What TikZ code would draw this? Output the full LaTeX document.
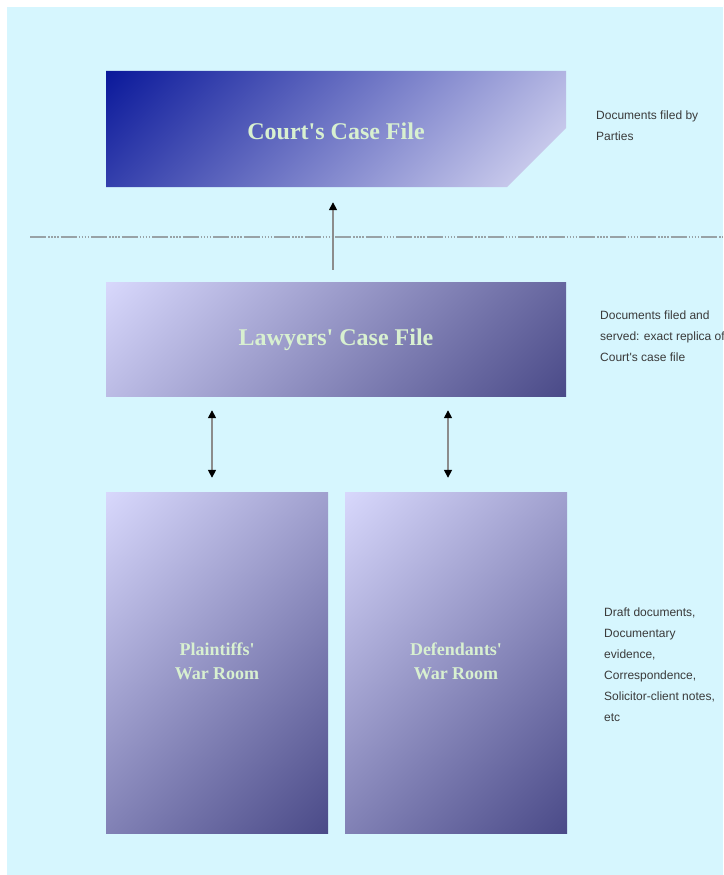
\documentclass[tikz,border=0pt]{standalone}
\usepackage{fontspec}
\newfontfamily\lblfont{Liberation Serif}
\newfontfamily\notefont{Liberation Sans}
\usetikzlibrary{arrows.meta,shadings}
\definecolor{bg}{HTML}{D6F6FE}
\definecolor{dkA}{HTML}{0A189A}
\definecolor{ltA}{HTML}{DCDCF4}
\definecolor{ltB}{HTML}{D8D8FC}
\definecolor{dkB}{HTML}{4A4A88}
\definecolor{lbl}{HTML}{D8F0D0}
\definecolor{note}{HTML}{3A3A3A}
\definecolor{shaft}{HTML}{8C8C8C}
\definecolor{sep}{HTML}{98A2A6}
\tikzset{
  boxlabel/.style={text=lbl, font=\lblfont\fontsize{24}{25}\selectfont\bfseries, align=center, inner sep=0pt},
  roomlabel/.style={boxlabel, font=\lblfont\fontsize{18}{24}\selectfont\bfseries},
  notetext/.style={text=note, font=\notefont\fontsize{12}{21}\selectfont, align=left, anchor=north west, inner sep=0pt},
  uparrow/.style={draw=shaft, line width=1.6pt, -{Triangle[width=8pt,length=8pt,color=black]}},
  dblarrow/.style={draw=shaft, line width=1.6pt, {Triangle[width=8pt,length=8pt,color=black]}-{Triangle[width=8pt,length=8pt,color=black]}},
  bluebox/.style={draw=none, minimum width=460pt, minimum height=114pt},
  roombox/.style={draw=none, minimum width=222pt, minimum height=341pt,
    upper left=ltB, lower right=dkB, upper right=dkB!39!ltB, lower left=dkB!61!ltB}
}
\begin{document}
\begin{tikzpicture}[x=1pt,y=-1pt]
\useasboundingbox (0,0) rectangle (723,875);
\fill[white] (0,0) rectangle (723,875);
\fill[bg] (7,7) rectangle (723,875);

% top box with cut corner
\shade[upper left=dkA, lower right=ltA, upper right=ltA!80!dkA, lower left=ltA!20!dkA]
  (106,71) -- (566,71) -- (566,128) -- (507,187) -- (106,187) -- cycle;
\node[minimum width=460pt, minimum height=116pt, inner sep=0pt] (court) at (336,129) {};
\node[boxlabel] (courtlbl) at (336,131) {Court's Case File};

% separator
\draw[sep, line width=1.2pt, dash pattern=on 16pt off 2pt on 1.5pt off 1.5pt on 1.5pt off 1.5pt on 1.5pt off 1.5pt on 1.5pt off 2pt]
  (30,237) -- (723,237);

% lawyers box
\node[bluebox, upper left=ltB, lower right=dkB, upper right=dkB!80!ltB, lower left=dkB!20!ltB] (lawyers) at (336,339) {};
\node[boxlabel] (lawyerslbl) at (336,340) {Lawyers' Case File};

% war rooms
\node[roombox] (plaintiff) at (217,662.5) {};
\node[roomlabel] (plaintifflbl) at (217,661) {Plaintiffs'\\War Room};
\node[roombox] (defendant) at (456,662.5) {};
\node[roomlabel] (defendantlbl) at (456,661) {Defendants'\\War Room};

% arrows
\draw[uparrow, shorten <=12pt, shorten >=15pt] ([xshift=-3pt]lawyers.north) -- ([xshift=-3pt]court.south);
\draw[dblarrow, shorten <=14pt, shorten >=14pt] ([xshift=-5pt]lawyers.south -| plaintiff.north) -- ([xshift=-5pt]plaintiff.north);
\draw[dblarrow, shorten <=14pt, shorten >=14pt] ([xshift=-8pt]lawyers.south -| defendant.north) -- ([xshift=-8pt]defendant.north);

% notes
\node[notetext] (note1) at (596,111) {Documents filed by\\Parties};
\node[notetext] (note2) at (600,311) {Documents filed and\\served: exact replica of\\Court's case file};
\node[notetext] (note3) at (604,608) {Draft documents,\\Documentary\\evidence,\\Correspondence,\\Solicitor-client notes,\\etc};
\end{tikzpicture}
\end{document}
